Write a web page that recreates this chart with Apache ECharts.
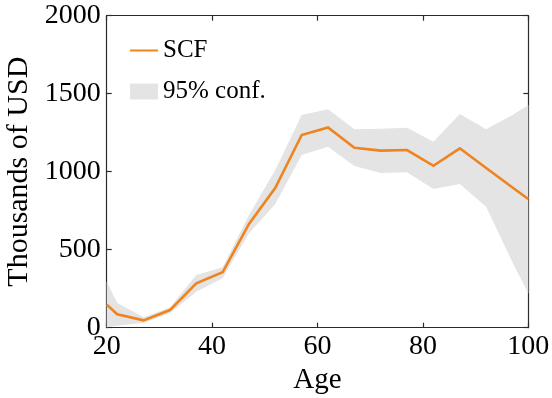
<!DOCTYPE html>
<html>
<head>
<meta charset="utf-8">
<script src="https://cdn.jsdelivr.net/npm/echarts@6/dist/echarts.min.js"></script>
<style>
  html, body { margin: 0; padding: 0; background: #fff; }
  #chart { width: 552px; height: 398px; }
</style>
</head>
<body>
<div id="chart"></div>
<script>
// Mean net worth by age (SCF) with its 95% confidence band, thousands of USD
const ages  = [20, 22, 27, 32, 37, 42, 47, 52, 57, 62, 67, 72, 77, 82, 87, 92, 97, 100];
const scf   = [148, 86, 47, 113, 285, 355, 665, 897, 1235, 1283, 1154, 1135, 1139, 1038, 1150, 1024, 899, 825];
const upper = [295, 158, 67, 130, 338, 387, 722, 1011, 1363, 1400, 1272, 1276, 1282, 1192, 1370, 1272, 1363, 1427];
const lower = [3, 12, 32, 92, 231, 317, 605, 793, 1107, 1160, 1037, 992, 996, 889, 921, 776, 420, 220];

const xTicks = [20, 40, 60, 80, 100];
const yTicks = [0, 500, 1000, 1500, 2000];

const FONT = 'Liberation Serif';
const FRAME = '#2b2b2b';

const chart = echarts.init(document.getElementById('chart'), null, { renderer: 'canvas' });

const tickStyle = { show: true, inside: true, length: 5, lineStyle: { color: FRAME, width: 1.2 } };
const lineStyle = { show: true, onZero: false, lineStyle: { color: FRAME, width: 1.2 } };
const plain = v => String(v);

const option = {
  backgroundColor: '#ffffff',
  animation: false,
  grid: {
    left: 106.7, right: 23.7, top: 15.7, bottom: 70.3,
    containLabel: false, outerBoundsMode: 'none'
  },
  legend: {
    orient: 'vertical',
    left: 124,
    top: 33,
    itemWidth: 28,
    itemHeight: 16,
    itemGap: 16,
    textStyle: { fontFamily: FONT, fontSize: 25, color: '#000' },
    data: [
      { name: 'SCF', itemStyle: { opacity: 0 } },
      { name: '95% conf.', icon: 'rect' }
    ]
  },
  xAxis: [
    {
      type: 'value', min: xTicks[0], max: xTicks[xTicks.length - 1], interval: 20,
      position: 'bottom',
      name: 'Age', nameLocation: 'middle', nameGap: 31,
      nameTextStyle: { fontFamily: FONT, fontSize: 29, color: '#000' },
      axisLine: lineStyle, axisTick: tickStyle,
      axisLabel: { fontFamily: FONT, fontSize: 28, color: '#000', margin: 5, formatter: plain },
      splitLine: { show: false }
    },
    {
      type: 'value', min: xTicks[0], max: xTicks[xTicks.length - 1], interval: 20,
      position: 'top',
      axisLine: lineStyle, axisTick: tickStyle,
      axisLabel: { show: false }, splitLine: { show: false }
    }
  ],
  yAxis: [
    {
      type: 'value', min: yTicks[0], max: yTicks[yTicks.length - 1], interval: 500,
      position: 'left',
      name: 'Thousands of USD', nameLocation: 'middle', nameGap: 54,
      nameTextStyle: { fontFamily: FONT, fontSize: 30, color: '#000' },
      axisLine: lineStyle, axisTick: tickStyle,
      axisLabel: { fontFamily: FONT, fontSize: 28, color: '#000', margin: 6, formatter: plain },
      splitLine: { show: false }
    },
    {
      type: 'value', min: yTicks[0], max: yTicks[yTicks.length - 1], interval: 500,
      position: 'right',
      axisLine: lineStyle, axisTick: tickStyle,
      axisLabel: { show: false }, splitLine: { show: false }
    }
  ],
  series: [
    {
      name: '95% conf.',
      type: 'custom',
      xAxisIndex: 0,
      yAxisIndex: 0,
      z: 1,
      itemStyle: { color: '#e4e4e4' },
      data: [0],
      renderItem: function (params, api) {
        const pts = [];
        for (let i = 0; i < ages.length; i++) pts.push(api.coord([ages[i], upper[i]]));
        for (let i = ages.length - 1; i >= 0; i--) pts.push(api.coord([ages[i], lower[i]]));
        return {
          type: 'polygon',
          shape: { points: pts },
          style: { fill: '#e4e4e4', stroke: null }
        };
      }
    },
    {
      name: 'SCF',
      type: 'line',
      xAxisIndex: 0,
      yAxisIndex: 0,
      z: 3,
      symbol: 'none',
      showSymbol: false,
      color: '#ef8320',
      lineStyle: { color: '#ef8320', width: 2.6, join: 'miter' },
      data: ages.map((a, i) => [a, scf[i]])
    }
  ]
};

chart.setOption(option);
</script>
</body>
</html>
